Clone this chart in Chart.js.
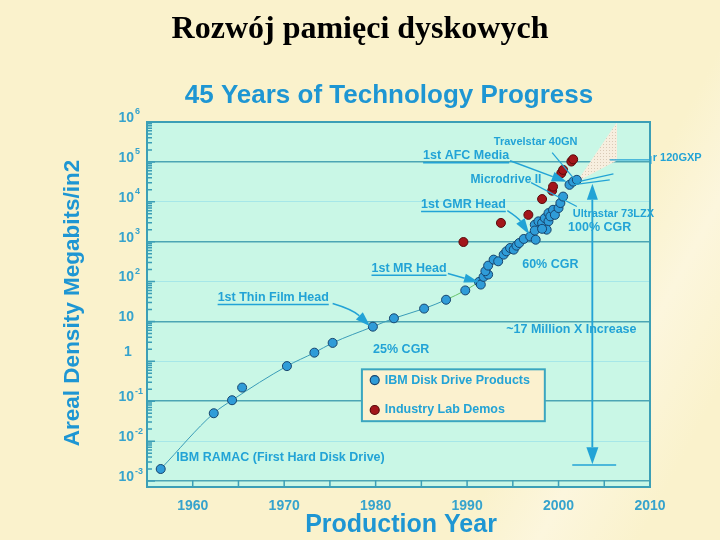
<!DOCTYPE html>
<html>
<head>
<meta charset="utf-8">
<script src="https://cdn.jsdelivr.net/npm/chart.js@4.4.1/dist/chart.umd.min.js"></script>
<style>
  html, body { margin: 0; padding: 0; }
  body {
    width: 720px; height: 540px; overflow: hidden;
    background: linear-gradient(118deg, #faf2cc 0%, #faf2cc 74%, #fcf6dd 82%, #faf2cc 92%);
  }
  canvas { display: block; }
</style>
</head>
<body>
<canvas id="chart" width="720" height="540"></canvas>
<script>
// IBM disk drive products (year, Mb/in2)
const ibmYear = [1956.5, 1962.3, 1964.3, 1965.4, 1970.3, 1973.3, 1975.3, 1979.7, 1982.0, 1985.3,
  1987.7, 1989.8, 1991.3, 1991.5, 1991.8, 1992.3, 1992.0, 1992.3, 1992.9, 1993.4,
  1994.0, 1994.3, 1994.7, 1995.1, 1995.4, 1995.7, 1996.2, 1996.9, 1997.5, 1997.4,
  1997.8, 1998.2, 1998.5, 1998.9, 1998.7, 1998.9, 1999.1, 1999.4, 1999.6, 2000.0,
  2000.2, 2000.5, 2001.2, 2001.6, 2002.0, 1997.4, 1998.2];
const ibmDensity = [0.002, 0.05, 0.106, 0.22, 0.76, 1.65, 2.9, 7.4, 12, 21,
  35, 60, 98, 84, 131, 150, 182, 251, 355, 322,
  473, 573, 694, 631, 794, 926, 1170, 1350, 1120, 2660,
  3230, 2950, 3900, 3230, 2000, 5200, 4300, 6300, 4700, 6950,
  9300, 13500, 26600, 32000, 35500, 1900, 2100];

// industry lab demos
const labYear = [1989.6, 1993.7, 1996.7, 1998.2, 1999.3, 1999.4, 2000.3, 2000.5, 2001.4, 2001.6];
const labDensity = [980, 2950, 4700, 11700, 19000, 24000, 52000, 63000, 102000, 116000];

// thin trend curve through the early products
const trendYear = [1956.5, 1962.3, 1964.3, 1970.3, 1973.3, 1975.3, 1979.7, 1982.0, 1985.3, 1987.7, 1989.8, 1991.3];
const trendDensity = [0.002, 0.05, 0.106, 0.76, 1.65, 2.9, 7.4, 12, 21, 35, 60, 98];

// projection wedge
const projUpperYear = [2002.0, 2006.4];
const projUpperDensity = [31600, 1000000];
const projLowerYear = [2002.0, 2006.5];
const projLowerDensity = [31600, 112000];

const yearTicks = [1960, 1970, 1980, 1990, 2000, 2010];
const densityTicks = [1e6, 1e5, 1e4, 1e3, 1e2, 10, 1, 0.1, 0.01, 0.001];
const densityLabels = [['10', '6'], ['10', '5'], ['10', '4'], ['10', '3'], ['10', '2'],
  ['10', ''], ['1', ''], ['10', '-1'], ['10', '-2'], ['10', '-3']];

const pts = (xs, ys) => xs.map((x, i) => ({ x: x, y: ys[i] }));

const TEXT = '#22a3d6';
const TITLE = '#1e96d3';
const TICK = '#36a3cd';
const SANS = '"Liberation Sans", Arial, sans-serif';

function dotPattern() {
  const c = document.createElement('canvas');
  c.width = 3; c.height = 3;
  const g = c.getContext('2d');
  g.fillStyle = '#f7eedf';
  g.fillRect(0, 0, 3, 3);
  g.fillStyle = '#d9cab6';
  g.fillRect(0, 0, 1, 1);
  return g.createPattern(c, 'repeat');
}

function at(chart, yr, exp) {
  return [chart.scales.x.getPixelForValue(yr), chart.scales.y.getPixelForValue(Math.pow(10, exp))];
}

function label(ctx, str, p, size, opts) {
  opts = opts || {};
  ctx.save();
  ctx.font = 'bold ' + size + 'px ' + SANS;
  ctx.fillStyle = opts.color || TEXT;
  ctx.textAlign = opts.align || 'center';
  ctx.textBaseline = 'middle';
  ctx.fillText(str, p[0], p[1]);
  if (opts.underline) {
    const w = ctx.measureText(str).width;
    const x0 = ctx.textAlign === 'center' ? p[0] - w / 2 : p[0];
    ctx.strokeStyle = opts.color || TEXT;
    ctx.lineWidth = 1.5;
    ctx.beginPath();
    ctx.moveTo(x0, p[1] + size * 0.55);
    ctx.lineTo(x0 + w, p[1] + size * 0.55);
    ctx.stroke();
  }
  ctx.restore();
}

function arrow(ctx, from, ctrl, to, len, wid) {
  ctx.save();
  ctx.strokeStyle = TEXT;
  ctx.fillStyle = TEXT;
  ctx.lineWidth = 1.5;
  const ang = Math.atan2(to[1] - (ctrl || from)[1], to[0] - (ctrl || from)[0]);
  const bx = to[0] - Math.cos(ang) * len, by = to[1] - Math.sin(ang) * len;
  ctx.beginPath();
  ctx.moveTo(from[0], from[1]);
  if (ctrl) ctx.quadraticCurveTo(ctrl[0], ctrl[1], bx, by);
  else ctx.lineTo(bx, by);
  ctx.stroke();
  if (len > 0) {
    ctx.beginPath();
    ctx.moveTo(to[0], to[1]);
    ctx.lineTo(bx + Math.sin(ang) * wid / 2, by - Math.cos(ang) * wid / 2);
    ctx.lineTo(bx - Math.sin(ang) * wid / 2, by + Math.cos(ang) * wid / 2);
    ctx.closePath();
    ctx.fill();
  }
  ctx.restore();
}

function line(ctx, a, b, w) {
  ctx.save();
  ctx.strokeStyle = TEXT;
  ctx.lineWidth = w || 1.2;
  ctx.beginPath();
  ctx.moveTo(a[0], a[1]);
  ctx.lineTo(b[0], b[1]);
  ctx.stroke();
  ctx.restore();
}

const decor = {
  id: 'decor',
  beforeDraw(chart) {
    const { ctx, chartArea: a } = chart;
    ctx.save();
    ctx.fillStyle = '#c9f7e6';
    ctx.fillRect(a.left, a.top, a.right - a.left, a.bottom - a.top);
    ctx.restore();
  },
  afterDraw(chart) {
    const { ctx, chartArea: a } = chart;
    const xs = chart.scales.x, ys = chart.scales.y;

    // titles
    ctx.save();
    ctx.fillStyle = '#000';
    ctx.textAlign = 'center';
    ctx.textBaseline = 'middle';
    ctx.font = 'bold 32px "Liberation Serif", "Times New Roman", serif';
    ctx.fillText('Rozwój pamięci dyskowych', 360, 30);
    ctx.fillStyle = TITLE;
    ctx.font = 'bold 26px ' + SANS;
    ctx.fillText('45 Years of Technology Progress', 389, 96);
    ctx.font = 'bold 25px ' + SANS;
    ctx.fillText('Production Year', 401, 525);
    ctx.translate(73, 303);
    ctx.rotate(-Math.PI / 2);
    ctx.font = 'bold 22.5px ' + SANS;
    ctx.fillText('Areal Density Megabits/in2', 0, 0);
    ctx.restore();

    // plot border and inner ticks
    ctx.save();
    ctx.strokeStyle = '#3c9fb6';
    ctx.lineWidth = 1.5;
    ctx.beginPath();
    for (let yr = 1960; yr < 2010; yr += 5) {
      const x = xs.getPixelForValue(yr);
      ctx.moveTo(x, a.bottom);
      ctx.lineTo(x, a.bottom - 7);
    }
    for (let e = -3; e < 6; e++) {
      for (let m = 1; m < 10; m++) {
        const y = ys.getPixelForValue(m * Math.pow(10, e));
        if (y < a.top || y > a.bottom) continue;
        ctx.moveTo(a.left, y);
        ctx.lineTo(a.left + (m === 1 ? 8 : 5), y);
      }
    }
    ctx.stroke();
    ctx.lineWidth = 2;
    ctx.strokeRect(a.left, a.top, a.right - a.left, a.bottom - a.top);
    ctx.restore();

    // y tick labels with superscripts
    ctx.save();
    ctx.fillStyle = TICK;
    ctx.textBaseline = 'middle';
    densityTicks.forEach((v, i) => {
      const y = ys.getPixelForValue(v) - 4;
      const [base, sup] = densityLabels[i];
      ctx.font = 'bold 14px ' + SANS;
      if (sup) {
        ctx.textAlign = 'right';
        ctx.fillText(base, 134, y);
        ctx.textAlign = 'left';
        ctx.font = 'bold 9px ' + SANS;
        ctx.fillText(sup, 135, y - 6);
      } else {
        ctx.textAlign = base === '1' ? 'center' : 'right';
        ctx.fillText(base, base === '1' ? 128 : 134, base === '1' ? y - 5 : y);
      }
    });
    ctx.restore();

    // annotations
    label(ctx, 'Travelstar 40GN', at(chart, 1997.5, 5.5), 11);
    line(ctx, at(chart, 1999.3, 5.23), at(chart, 2001.8, 4.55));

    label(ctx, '1st AFC Media', at(chart, 1989.9, 5.15), 12.5, { underline: true });
    arrow(ctx, at(chart, 1994.7, 5.03), null, at(chart, 2000.9, 4.5), 15, 10);

    line(ctx, at(chart, 2005.6, 5.05), at(chart, 2010.1, 5.05));
    line(ctx, at(chart, 2010.1, 5.15), at(chart, 2010.1, 4.95));
    label(ctx, 'r 120GXP', at(chart, 2010.3, 5.1), 11, { align: 'left' });

    label(ctx, 'Microdrive II', at(chart, 1994.25, 4.55), 12);
    line(ctx, at(chart, 1997.0, 4.48), at(chart, 2002.0, 3.88));
    line(ctx, at(chart, 2001.7, 4.48), at(chart, 2006.0, 4.7));
    line(ctx, at(chart, 2001.7, 4.43), at(chart, 2005.6, 4.55));

    label(ctx, '1st GMR Head', at(chart, 1989.6, 3.93), 12.5, { underline: true });
    arrow(ctx, at(chart, 1994.4, 3.78), at(chart, 1995.6, 3.6), at(chart, 1996.8, 3.18), 16, 10);

    label(ctx, 'Ultrastar 73LZX', at(chart, 2006.0, 3.7), 11);
    label(ctx, '100% CGR', at(chart, 2004.5, 3.35), 12.5);
    label(ctx, '60% CGR', at(chart, 1999.1, 2.43), 12.5);

    label(ctx, '1st MR Head', at(chart, 1983.65, 2.33), 12.5, { underline: true });
    arrow(ctx, at(chart, 1987.9, 2.2), at(chart, 1989.5, 2.1), at(chart, 1991.3, 1.98), 15, 9);

    label(ctx, '1st Thin Film Head', at(chart, 1968.8, 1.6), 12.5, { underline: true });
    arrow(ctx, at(chart, 1975.3, 1.45), at(chart, 1977.5, 1.3), at(chart, 1979.4, 0.88), 15, 10);

    label(ctx, '~17 Million X Increase', at(chart, 2001.4, 0.8), 12.5);
    label(ctx, '25% CGR', at(chart, 1982.8, 0.3), 12.5);
    label(ctx, 'IBM RAMAC (First Hard Disk Drive)', at(chart, 1969.6, -2.4), 12.5);

    // 17 million x arrow
    arrow(ctx, at(chart, 2003.7, -2.15), null, at(chart, 2003.7, 4.45), 16, 11);
    arrow(ctx, at(chart, 2003.7, 4.05), null, at(chart, 2003.7, -2.58), 17, 12);
    line(ctx, at(chart, 2001.5, -2.6), at(chart, 2006.3, -2.6), 1.5);

    // legend box
    const b0 = at(chart, 1978.5, -0.2), b1 = at(chart, 1998.5, -1.5);
    ctx.save();
    ctx.fillStyle = '#fbf1cf';
    ctx.strokeStyle = '#3aa6c0';
    ctx.lineWidth = 2;
    ctx.fillRect(b0[0], b0[1], b1[0] - b0[0], b1[1] - b0[1]);
    ctx.strokeRect(b0[0], b0[1], b1[0] - b0[0], b1[1] - b0[1]);
    const items = [
      [chart.data.datasets[0], -0.47],
      [chart.data.datasets[1], -1.22]
    ];
    items.forEach(([ds, e]) => {
      const m = at(chart, 1979.9, e);
      ctx.beginPath();
      ctx.arc(m[0], m[1], 4.5, 0, Math.PI * 2);
      ctx.fillStyle = ds.backgroundColor;
      ctx.fill();
      ctx.lineWidth = 1.2;
      ctx.strokeStyle = ds.borderColor;
      ctx.stroke();
      label(ctx, ds.label, at(chart, 1981.0, e), 12.5, { align: 'left' });
    });
    ctx.restore();
  }
};

const canvas = document.getElementById('chart');
new Chart(canvas, {
  type: 'scatter',
  data: {
    datasets: [
      {
        label: 'IBM Disk Drive Products',
        data: pts(ibmYear, ibmDensity),
        backgroundColor: '#2f9cd8',
        borderColor: '#17456e',
        borderWidth: 1,
        pointRadius: 4.5,
        order: 1
      },
      {
        label: 'Industry Lab Demos',
        data: pts(labYear, labDensity),
        backgroundColor: '#a3161b',
        borderColor: '#5a0a0c',
        borderWidth: 1,
        pointRadius: 4.5,
        order: 0
      },
      {
        label: 'trend',
        data: pts(trendYear, trendDensity),
        showLine: true,
        pointRadius: 0,
        borderColor: '#3a9cb8',
        borderWidth: 1,
        cubicInterpolationMode: 'monotone',
        segment: { borderColor: c => c.p0.parsed.x >= 1987 ? '#68c46a' : undefined },
        order: 2
      },
      {
        label: 'projection',
        data: pts(projUpperYear, projUpperDensity),
        showLine: true,
        pointRadius: 0,
        borderWidth: 0,
        backgroundColor: dotPattern(),
        fill: '+1',
        order: 3
      },
      {
        label: 'projection base',
        data: pts(projLowerYear, projLowerDensity),
        showLine: true,
        pointRadius: 0,
        borderWidth: 0,
        order: 4
      }
    ]
  },
  options: {
    responsive: false,
    animation: false,
    layout: { padding: { left: 0, right: 70, top: 122, bottom: 0 } },
    plugins: { legend: { display: false }, tooltip: { enabled: false } },
    scales: {
      x: {
        type: 'linear',
        min: 1955,
        max: 2010,
        afterBuildTicks: s => { s.ticks = yearTicks.map(v => ({ value: v })); },
        afterFit: s => { s.height = 53; },
        grid: { display: false },
        border: { display: false },
        ticks: {
          color: TICK,
          font: { family: SANS, weight: 'bold', size: 14 },
          padding: 3,
          maxRotation: 0,
          autoSkip: false,
          callback: v => String(v)
        }
      },
      y: {
        type: 'logarithmic',
        min: Math.pow(10, -3.15),
        max: 1e6,
        afterBuildTicks: s => { s.ticks = densityTicks.map(v => ({ value: v })); },
        afterFit: s => { s.width = 147; },
        grid: {
          drawTicks: false,
          color: c => Math.abs(Math.round(Math.log10(c.tick.value))) % 2 === 1 ? '#4ca5b4' : '#a6e7e8',
          lineWidth: c => Math.abs(Math.round(Math.log10(c.tick.value))) % 2 === 1 ? 1.5 : 1
        },
        border: { display: false },
        ticks: { display: false }
      }
    }
  },
  plugins: [decor]
});
</script>
</body>
</html>
